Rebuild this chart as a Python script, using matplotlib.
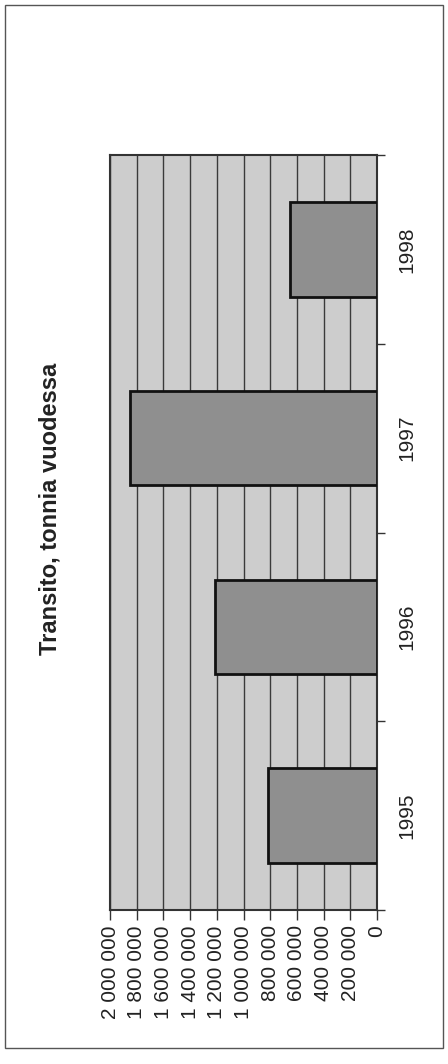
import matplotlib
matplotlib.use("Agg")
import matplotlib.pyplot as plt
from matplotlib.patches import Rectangle
from matplotlib.ticker import FuncFormatter, FixedLocator

plt.rcParams['font.family'] = ['Liberation Sans', 'DejaVu Sans']

years = ['1995', '1996', '1997', '1998']
tonnes = [815000, 1210000, 1850000, 650000]
value_ticks = [0, 200000, 400000, 600000, 800000, 1000000, 1200000,
               1400000, 1600000, 1800000, 2000000]
title = 'Transito, tonnia vuodessa'

fig = plt.figure(figsize=(4.48, 10.64), dpi=100)
fig.patch.set_facecolor('white')
fig.patches.append(Rectangle((5/448, 1-1048/1064), 438/448, 1043/1064,
                             transform=fig.transFigure, fill=False,
                             edgecolor='#555555', lw=1.0))

ax = fig.add_axes([110/448, 1-910/1064, 267/448, 755/1064])
ax.set_facecolor('#cdcdcd')
pos = list(range(len(years)))
ax.barh(pos, tonnes, height=0.5, color='#8f8f8f', edgecolor='#111111',
        linewidth=2.0, zorder=3)
ax.set_xlim(2000000, 0)
ax.set_ylim(-0.5, len(years)-0.5)

ax.xaxis.set_major_locator(FixedLocator(value_ticks))
ax.xaxis.set_major_formatter(FuncFormatter(lambda v, p: f'{int(v):,}'.replace(',', ' ')))
ax.grid(axis='x', color='#3a3a3a', lw=1.0, zorder=1)
ax.set_axisbelow(True)
ax.tick_params(axis='x', direction='out', length=7, width=1, color='#333333',
               labelsize=15, labelrotation=90, pad=4, labelcolor='#222222')
for lab in ax.get_xticklabels():
    lab.set_va('top')
    lab.set_ha('center')

ax.set_yticks(pos)
ax.set_yticklabels(years)
ax.yaxis.set_minor_locator(FixedLocator([p - 0.5 for p in pos] + [len(years) - 0.5]))
ax.tick_params(axis='y', which='major', left=False, right=False, labelleft=False,
               labelright=True, labelsize=15, labelrotation=90, pad=11,
               labelcolor='#222222')
ax.tick_params(axis='y', which='minor', left=False, right=True, direction='out',
               length=6, width=1, color='#333333')
for lab in ax.get_yticklabels():
    lab.set_va('center')
    lab.set_ha('left')

for s in ax.spines.values():
    s.set_color('#333333')
    s.set_linewidth(1.5)

fig.text(50/448, 1-509/1064, title, rotation=90, ha='center', va='center',
         fontsize=17, fontweight='bold', color='#222222')

fig.savefig('out.png', dpi=100)
